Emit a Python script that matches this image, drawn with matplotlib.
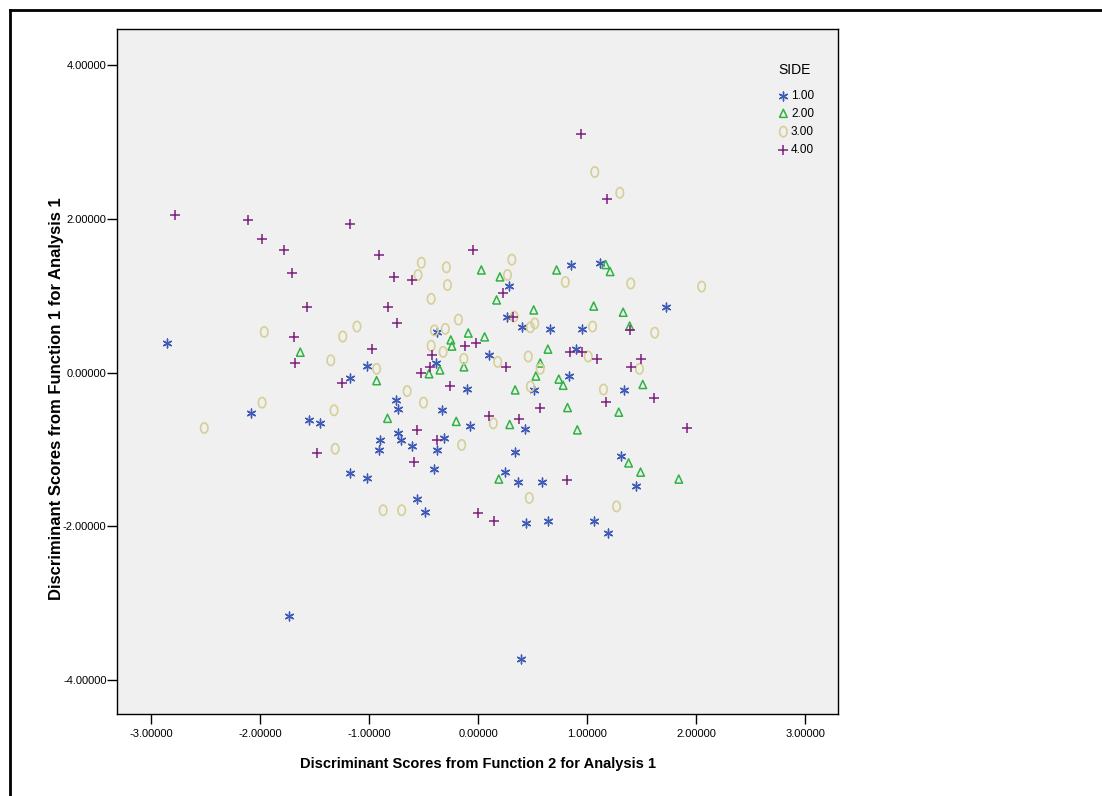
import numpy as np
import matplotlib
matplotlib.use('Agg')
import matplotlib.pyplot as plt
from matplotlib.lines import Line2D

plt.rcParams['font.family'] = ['Liberation Sans', 'DejaVu Sans']

# ==========================================================
# Dados
# ==========================================================
side_labels = ['1.00', '2.00', '3.00', '4.00']

side1_x = [-2.85, -2.08, -1.55, -1.45, -1.17, -1.17, -1.73, -0.56, -0.49, 0.44,
           0.64, 1.06, 0.39, 1.19, 1.45, 1.12, 1.72, 1.34, 1.31, 0.85,
           0.28, 0.27, 0.40, 0.66, 0.95, -0.38, 0.10, 0.90, -1.02, -0.39,
           0.83, 0.51, -0.10, -0.75, -0.73, -0.33, -0.07, 0.43, -0.73, -0.90,
           -0.71, -0.91, -0.31, -0.61, -0.38, 0.34, -0.40, 0.25, -1.02, 0.37,
           0.59]
side1_y = [0.39, -0.53, -0.61, -0.66, -1.30, -0.07, -3.16, -1.64, -1.81, -1.95,
           -1.93, -1.93, -3.72, -2.09, -1.48, 1.43, 0.86, -0.22, -1.08, 1.40,
           1.13, 0.73, 0.59, 0.57, 0.57, 0.53, 0.23, 0.31, 0.09, 0.12,
           -0.05, -0.23, -0.21, -0.35, -0.47, -0.48, -0.70, -0.73, -0.79, -0.88,
           -0.88, -1.00, -0.85, -0.96, -1.01, -1.03, -1.25, -1.29, -1.37, -1.42,
           -1.42]

side2_x = [-1.63, 1.17, 1.21, 1.33, 1.39, 1.51, 1.29, 1.38, 1.49, 1.84,
           0.03, 0.72, 0.20, 0.17, 0.51, 1.06, -0.09, 0.06, -0.25, -0.24,
           0.64, 0.57, -0.35, -0.13, -0.45, -0.93, 0.53, 0.74, 0.78, 0.34,
           0.82, -0.83, -0.20, 0.29, 0.91, 0.19]
side2_y = [0.26, 1.40, 1.31, 0.78, 0.60, -0.16, -0.52, -1.18, -1.30, -1.39,
           1.33, 1.33, 1.24, 0.94, 0.81, 0.86, 0.51, 0.46, 0.42, 0.34,
           0.30, 0.12, 0.03, 0.07, -0.02, -0.11, -0.05, -0.09, -0.17, -0.23,
           -0.46, -0.60, -0.64, -0.68, -0.75, -1.39]

side3_x = [1.07, 1.30, -1.96, -1.24, -1.11, -1.35, -1.98, -1.32, -2.51, -1.31,
           -0.87, -0.70, 0.47, 1.27, 1.40, 2.05, 1.62, 1.48, 1.15, -0.52,
           -0.29, 0.31, -0.55, 0.27, -0.28, 0.80, -0.43, -0.18, 0.33, 0.48,
           0.52, 1.05, -0.40, -0.30, -0.43, -0.32, 1.01, -0.13, 0.18, 0.46,
           0.57, -0.93, 0.48, -0.65, -0.50, 0.14, -0.15]
side3_y = [2.61, 2.34, 0.53, 0.47, 0.60, 0.16, -0.39, -0.49, -0.72, -0.99,
           -1.79, -1.79, -1.63, -1.74, 1.16, 1.12, 0.52, 0.05, -0.22, 1.43,
           1.37, 1.47, 1.27, 1.27, 1.14, 1.18, 0.96, 0.69, 0.73, 0.59,
           0.64, 0.60, 0.55, 0.57, 0.35, 0.27, 0.21, 0.18, 0.14, 0.21,
           0.05, 0.05, -0.18, -0.24, -0.39, -0.66, -0.94]

side4_x = [-2.78, -2.11, -1.98, -1.78, -1.17, 0.94, -0.91, -0.05, 1.18, -1.71,
           -1.57, -1.69, -1.68, -1.25, -1.48, 0.00, 0.15, 1.39, 1.09, 1.49,
           1.40, 1.17, 1.61, 1.92, -0.77, -0.61, 0.23, -0.83, -0.74, 0.32,
           -0.12, -0.02, -0.97, -0.42, 0.84, 0.95, -0.44, -0.52, 0.26, -0.26,
           0.57, 0.10, 0.38, -0.56, -0.38, -0.59, 0.82]
side4_y = [2.05, 1.99, 1.74, 1.60, 1.94, 3.11, 1.53, 1.59, 2.26, 1.30,
           0.86, 0.47, 0.13, -0.14, -1.05, -1.82, -1.93, 0.56, 0.18, 0.18,
           0.08, -0.38, -0.33, -0.72, 1.24, 1.21, 1.04, 0.85, 0.64, 0.72,
           0.35, 0.39, 0.31, 0.23, 0.27, 0.27, 0.07, 0.00, 0.08, -0.18,
           -0.46, -0.57, -0.60, -0.74, -0.88, -1.16, -1.40]

xticks = [-3, -2, -1, 0, 1, 2, 3]
yticks = [-4, -2, 0, 2, 4]

# marcadores um pouco "estreitos", como no original
t = np.linspace(0, 2 * np.pi, 41)
oval = list(zip(0.72 * np.cos(t), np.sin(t)))
tri = [(-0.85, -0.8), (0.85, -0.8), (0.0, 1.0), (-0.85, -0.8)]

# ==========================================================
# Gráfico
# ==========================================================
fig = plt.figure(figsize=(11.02, 7.96), dpi=100)
ax = fig.add_axes([117/1102, 1 - 714/796, (838-117)/1102, (714-29)/796])
ax.set_facecolor('#f0f0f0')

ax.scatter(side1_x, side1_y, marker=(6, 2, 0), s=40, color='#3f5bb5', linewidths=1.0,
           label=side_labels[0], zorder=3)
ax.scatter(side2_x, side2_y, marker=tri, s=42, facecolors='none', edgecolors='#2fb343',
           linewidths=1.1, label=side_labels[1], zorder=3)
ax.scatter(side3_x, side3_y, marker=oval, s=55, facecolors='none', edgecolors='#d6cf96',
           linewidths=1.2, label=side_labels[2], zorder=3)
ax.scatter(side4_x, side4_y, marker='+', s=60, color='#7d1e7d', linewidths=1.1,
           label=side_labels[3], zorder=3)

ax.set_xlim(-3.31, 3.30)
ax.set_ylim(-4.44, 4.47)
ax.set_xticks(xticks)
ax.set_yticks(yticks)
ax.set_xticklabels([f'{v:.5f}' for v in xticks], fontsize=8)
ax.set_yticklabels([f'{v:.5f}' for v in yticks], fontsize=8)
ax.tick_params(direction='out', length=7, width=1)
ax.tick_params(axis='x', pad=4)
ax.tick_params(axis='y', pad=0.5)
for sp in ax.spines.values():
    sp.set_linewidth(1.0)

ax.set_xlabel('Discriminant Scores from Function 2 for Analysis 1', fontsize=10.5,
              fontweight='bold', labelpad=12.5)
ax.set_ylabel('Discriminant Scores from Function 1 for Analysis 1', fontsize=12,
              fontweight='bold')
ax.yaxis.set_label_coords(-0.073, 0.46)

ax.text(0.940, 0.940, 'SIDE', transform=ax.transAxes, ha='center', va='center', fontsize=10)
leg = ax.legend(loc='upper left', bbox_to_anchor=(0.916, 0.911), frameon=False,
                fontsize=8.5, handletextpad=0.15, labelspacing=0.5,
                handlelength=1.0, borderpad=0, borderaxespad=0)

# moldura externa
fig.add_artist(Line2D([10/1102, 1], [1 - 10/796, 1 - 10/796], color='black', lw=2))
fig.add_artist(Line2D([10/1102, 10/1102], [0, 1 - 10/796], color='black', lw=2))

fig.savefig('out.png', dpi=100)
